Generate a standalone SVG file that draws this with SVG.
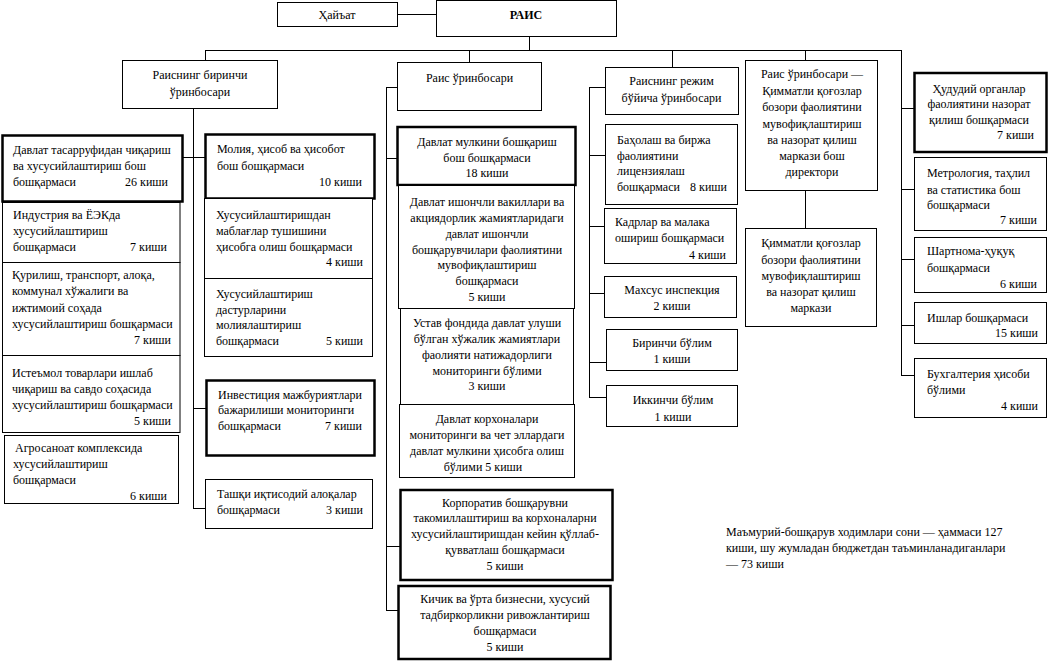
<svg xmlns="http://www.w3.org/2000/svg" width="1048" height="661" viewBox="0 0 1048 661">
<style>
.bx{fill:#fff;stroke:#000;stroke-width:1}
.tk{fill:#fff;stroke:#000;stroke-width:2.5}
.ln{stroke:#000;stroke-width:1;fill:none}
text{font-family:"Liberation Serif","Times New Roman",serif;font-size:12px;fill:#000}
.c{text-anchor:middle}
.r{text-anchor:end}
.bd{font-weight:bold}
</style>
<rect width="1048" height="661" fill="#fff"/>
<g id="connectors" class="ln">
<path d="M397 14.5H436 M529.5 36V50 M205.5 50.5H901.5 M205.5 50V60 M469.5 50V62 M672.5 50V67 M805.5 50V60 M901.5 50V375.5 M901 108.5H914 M901 189.5H914 M901 259.5H914 M901 325.5H914 M901 375.5H914 M193.5 108V508.5 M183 157.5H205 M193 408.5H207 M193 508.5H205 M386.5 87V610.5 M386 87.5H397 M386 158.5H397 M386 546.5H400 M386 610.5H398 M589.5 87V397.5 M589 87.5H605 M589 155.5H605 M589 226.5H604 M589 293.5H604 M589 362.5H607 M589 397.5H607 M805.5 190V228"/>
</g>
<g id="n-hayat"><rect class="bx" x="277.5" y="2.5" width="120" height="24"/><text class="c" x="337" y="19">Ҳайъат</text></g>
<g id="n-rais"><rect class="bx" x="436.5" y="0.5" width="180" height="36"/><text class="c bd" x="526" y="19">РАИС</text></g>

<g id="n-dep1"><rect class="bx" x="122.5" y="60.5" width="155" height="48"/><text class="c" x="200" y="79">Раиснинг биринчи</text><text class="c" x="200" y="96">ўринбосари</text></g>
<g id="n-dep2"><rect class="bx" x="397.5" y="62.5" width="144" height="48"/><text class="c" x="469.5" y="82">Раис ўринбосари</text></g>
<g id="n-dep3"><rect class="bx" x="605.5" y="67.5" width="133" height="47"/><text class="c" x="671.5" y="85">Раиснинг режим</text><text class="c" x="671.5" y="102">бўйича ўринбосари</text></g>
<g id="n-dep4"><rect class="bx" x="745.5" y="60.5" width="132" height="130"/><text class="c" x="812" y="78">Раис ўринбосари —</text><text class="c" x="812" y="95">Қимматли қоғозлар</text><text class="c" x="812" y="111">бозори фаолиятини</text><text class="c" x="812" y="127.5">мувофиқлаштириш</text><text class="c" x="812" y="144">ва назорат қилиш</text><text class="c" x="812" y="160">маркази бош</text><text class="c" x="812" y="176">директори</text></g>

<g id="n-l1"><rect class="tk" x="2.5" y="135.5" width="180" height="66"/><text x="13" y="154">Давлат тасарруфидан чиқариш</text><text x="13" y="170">ва хусусийлаштириш бош</text><text x="13" y="186">бошқармаси</text><text class="r" x="168" y="186">26 киши</text></g>
<g id="n-l2"><rect class="bx" x="2.5" y="202.5" width="177.5" height="60"/><text x="13" y="219">Индустрия ва ЁЭКда</text><text x="13" y="235">хусусийлаштириш</text><text x="13" y="251">бошқармаси</text><text class="r" x="167" y="251">7 киши</text></g>
<g id="n-l3"><rect class="bx" x="2.5" y="262.5" width="177.5" height="93"/><text x="12" y="279">Қурилиш, транспорт, алоқа,</text><text x="12" y="295">коммунал хўжалиги ва</text><text x="12" y="312">ижтимоий соҳада</text><text x="12" y="328">хусусийлаштириш бошқармаси</text><text class="r" x="171" y="344">7 киши</text></g>
<g id="n-l4"><rect class="bx" x="2.5" y="355.5" width="177.5" height="77"/><text x="12" y="377">Истеъмол товарлари ишлаб</text><text x="12" y="393">чиқариш ва савдо соҳасида</text><text x="12" y="409">хусусийлаштириш бошқармаси</text><text class="r" x="171" y="425">5 киши</text></g>
<g id="n-l5"><rect class="bx" x="4.5" y="435.5" width="174" height="68"/><text x="15" y="452">Агросаноат комплексида</text><text x="13" y="468">хусусийлаштириш</text><text x="13" y="484">бошқармаси</text><text class="r" x="167" y="500">6 киши</text></g>

<g id="n-m1"><rect class="tk" x="205.5" y="134.5" width="169" height="64"/><text x="217" y="153">Молия, ҳисоб ва ҳисобот</text><text x="217" y="170">бош бошқармаси</text><text class="r" x="362" y="186">10 киши</text></g>
<g id="n-m2"><rect class="bx" x="204.5" y="198.5" width="168" height="80"/><text x="216" y="219">Хусусийлаштиришдан</text><text x="216" y="235">маблағлар тушишини</text><text x="216" y="251">ҳисобга олиш бошқармаси</text><text class="r" x="363" y="266">4 киши</text></g>
<g id="n-m3"><rect class="bx" x="204.5" y="278.5" width="168" height="78"/><text x="216" y="298">Хусусийлаштириш</text><text x="216" y="314">дастурларини</text><text x="216" y="329">молиялаштириш</text><text x="216" y="345">бошқармаси</text><text class="r" x="363" y="345">5 киши</text></g>
<g id="n-m4"><rect class="tk" x="206.5" y="380.5" width="168" height="75"/><text x="218" y="399">Инвестиция мажбуриятлари</text><text x="218" y="414">бажарилиши мониторинги</text><text x="218" y="430">бошқармаси</text><text class="r" x="362" y="430">7 киши</text></g>
<g id="n-m5"><rect class="bx" x="205.5" y="479.5" width="167" height="49"/><text x="217" y="498">Ташқи иқтисодий алоқалар</text><text x="217" y="514">бошқармаси</text><text class="r" x="363" y="514">3 киши</text></g>

<g id="n-c1"><rect class="tk" x="397.5" y="127" width="178" height="58"/><text class="c" x="487" y="146">Давлат мулкини бошқариш</text><text class="c" x="487" y="161.5">бош бошқармаси</text><text class="c" x="487" y="177">18 киши</text></g>
<g id="n-c2"><rect class="bx" x="398.5" y="185.5" width="176" height="123"/><text class="c" x="487" y="206">Давлат ишончли вакиллари ва</text><text class="c" x="487" y="222">акциядорлик жамиятларидаги</text><text class="c" x="487" y="238">давлат ишончли</text><text class="c" x="487" y="253.5">бошқарувчилари фаолиятини</text><text class="c" x="487" y="269">мувофиқлаштириш</text><text class="c" x="487" y="285">бошқармаси</text><text class="c" x="487" y="301">5 киши</text></g>
<g id="n-c3"><rect class="bx" x="400.5" y="308.5" width="173" height="96"/><text class="c" x="487" y="327">Устав фондида давлат улуши</text><text class="c" x="487" y="343">бўлган хўжалик жамиятлари</text><text class="c" x="487" y="359">фаолияти натижадорлиги</text><text class="c" x="487" y="375">мониторинги бўлими</text><text class="c" x="487" y="390">3 киши</text></g>
<g id="n-c4"><rect class="bx" x="399.5" y="404.5" width="175" height="73"/><text class="c" x="487" y="423">Давлат корхоналари</text><text class="c" x="487" y="439">мониторинги ва чет эллардаги</text><text class="c" x="487" y="455">давлат мулкини ҳисобга олиш</text><text class="c" x="483" y="471">бўлими 5 киши</text></g>
<g id="n-c5"><rect class="tk" x="400.5" y="490" width="212" height="90"/><text class="c" x="505" y="507">Корпоратив бошқарувни</text><text class="c" x="505" y="522">такомиллаштириш ва корхоналарни</text><text class="c" x="505" y="538">хусусийлаштиришдан кейин қўллаб-</text><text class="c" x="505" y="554">қувватлаш бошқармаси</text><text class="c" x="505" y="570">5 киши</text></g>
<g id="n-c6"><rect class="tk" x="398.5" y="586" width="212" height="73"/><text class="c" x="505" y="603">Кичик ва ўрта бизнесни, хусусий</text><text class="c" x="505" y="619">тадбиркорликни ривожлантириш</text><text class="c" x="505" y="635">бошқармаси</text><text class="c" x="505" y="651">5 киши</text></g>

<g id="n-r1"><rect class="bx" x="605.5" y="124.5" width="132" height="80"/><text x="617" y="144">Баҳолаш ва биржа</text><text x="617" y="159.5">фаолиятини</text><text x="617" y="175">лицензиялаш</text><text x="617" y="191">бошқармаси</text><text class="r" x="727" y="191">8 киши</text></g>
<g id="n-r2"><rect class="bx" x="604.5" y="208.5" width="132" height="55"/><text x="615" y="225.5">Кадрлар ва малака</text><text x="615" y="242">ошириш бошқармаси</text><text class="r" x="726" y="258.5">4 киши</text></g>
<g id="n-r3"><rect class="bx" x="604.5" y="276.5" width="132" height="41"/><text class="c" x="672" y="294">Махсус инспекция</text><text class="c" x="672" y="310">2 киши</text></g>
<g id="n-r4"><rect class="bx" x="606.5" y="329.5" width="131" height="41"/><text class="c" x="672" y="347">Биринчи бўлим</text><text class="c" x="672" y="363">1 киши</text></g>
<g id="n-r5"><rect class="bx" x="606.5" y="385.5" width="131" height="41"/><text class="c" x="673" y="404">Иккинчи бўлим</text><text class="c" x="673" y="420.5">1 киши</text></g>

<g id="n-q1"><rect class="bx" x="745.5" y="228.5" width="131" height="98"/><text class="c" x="811" y="247">Қимматли қоғозлар</text><text class="c" x="811" y="264">бозори фаолиятини</text><text class="c" x="811" y="280">мувофиқлаштириш</text><text class="c" x="811" y="296">ва назорат қилиш</text><text class="c" x="811" y="312">маркази</text></g>

<g id="n-s1"><rect class="tk" x="914.5" y="73" width="132" height="79"/><text class="c" x="979" y="92.5">Ҳудудий органлар</text><text class="c" x="979" y="108">фаолиятини назорат</text><text class="c" x="979" y="124">қилиш бошқармаси</text><text class="r" x="1034" y="139">7 киши</text></g>
<g id="n-s2"><rect class="bx" x="914.5" y="157.5" width="132" height="73"/><text x="927" y="177">Метрология, таҳлил</text><text x="927" y="193.5">ва статистика бош</text><text x="927" y="209">бошқармаси</text><text class="r" x="1037" y="224">7 киши</text></g>
<g id="n-s3"><rect class="bx" x="914.5" y="237.5" width="132" height="55"/><text x="927" y="255">Шартнома-ҳуқуқ</text><text x="927" y="271.5">бошқармаси</text><text class="r" x="1037" y="288">6 киши</text></g>
<g id="n-s4"><rect class="bx" x="914.5" y="302.5" width="132" height="41"/><text x="927" y="322">Ишлар бошқармаси</text><text class="r" x="1038" y="337">15 киши</text></g>
<g id="n-s5"><rect class="bx" x="914.5" y="358.5" width="132" height="59"/><text x="927" y="378">Бухгалтерия ҳисоби</text><text x="927" y="394">бўлими</text><text class="r" x="1038" y="410">4 киши</text></g>

<g id="note"><text x="726" y="536">Маъмурий-бошқарув ходимлари сони — ҳаммаси 127</text><text x="726" y="552">киши, шу жумладан бюджетдан таъминланадиганлари</text><text x="726" y="568">— 73 киши</text></g>
</svg>
